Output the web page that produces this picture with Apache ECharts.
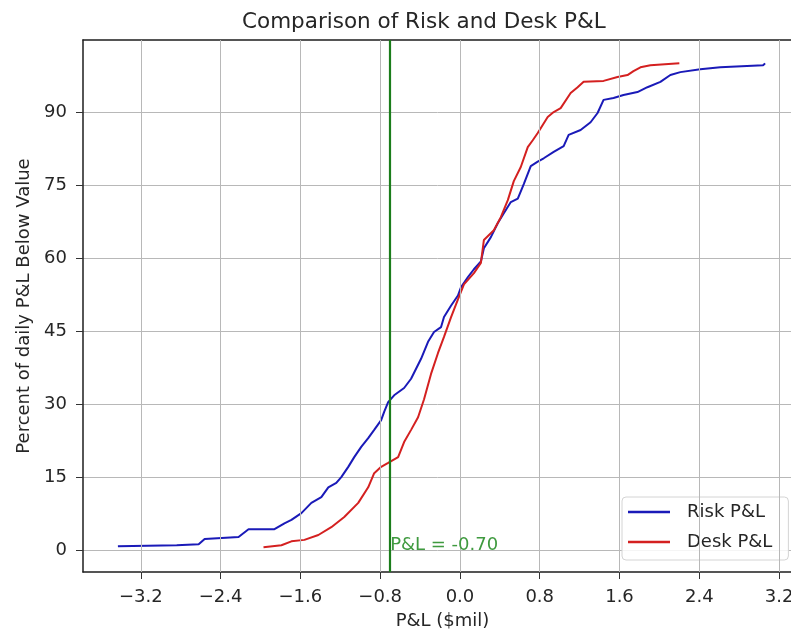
<!DOCTYPE html>
<html>
<head>
<meta charset="utf-8">
<script src="https://cdn.jsdelivr.net/npm/echarts@6/dist/echarts.min.js"></script>
<style>
  html, body { margin: 0; padding: 0; background: #fff; overflow: hidden; }
  #chart { width: 791px; height: 633px; }
</style>
</head>
<body>
<div id="chart"></div>
<script>
// Empirical distribution of daily P&L ($mil) vs. cumulative percent
const riskX = [-3.43, -2.84, -2.62, -2.56, -2.22, -2.12, -1.86, -1.76, -1.69, -1.59, -1.49, -1.39, -1.32, -1.24, -1.19, -1.12, -1.06, -0.99, -0.92, -0.86, -0.79, -0.76, -0.72, -0.66, -0.56, -0.49, -0.39, -0.32, -0.26, -0.19, -0.16, -0.09, -0.02, 0.01, 0.08, 0.14, 0.21, 0.24, 0.31, 0.38, 0.44, 0.51, 0.58, 0.64, 0.71, 0.78, 0.84, 0.94, 1.04, 1.09, 1.21, 1.31, 1.38, 1.44, 1.54, 1.64, 1.78, 1.88, 2.01, 2.11, 2.21, 2.41, 2.61, 3.04, 3.06];
const riskY = [0.8, 1.0, 1.2, 2.3, 2.7, 4.3, 4.3, 5.5, 6.2, 7.6, 9.7, 10.9, 12.9, 13.8, 15.0, 17.1, 19.1, 21.2, 23.0, 24.7, 26.7, 28.4, 30.4, 31.8, 33.3, 35.2, 39.3, 42.8, 44.8, 45.8, 47.9, 50.2, 52.3, 54.0, 56.1, 57.7, 59.3, 62.0, 64.3, 67.2, 69.2, 71.5, 72.2, 75.2, 78.9, 79.8, 80.5, 81.8, 83.0, 85.3, 86.3, 87.9, 89.8, 92.5, 92.9, 93.5, 94.1, 95.1, 96.2, 97.6, 98.2, 98.8, 99.2, 99.6, 100.0];

const deskX = [-1.97, -1.79, -1.69, -1.56, -1.42, -1.29, -1.16, -1.02, -0.92, -0.86, -0.79, -0.72, -0.62, -0.56, -0.49, -0.42, -0.36, -0.29, -0.22, -0.16, -0.09, -0.02, 0.04, 0.14, 0.21, 0.24, 0.34, 0.41, 0.48, 0.54, 0.61, 0.68, 0.73, 0.78, 0.88, 0.94, 1.01, 1.11, 1.18, 1.24, 1.44, 1.58, 1.68, 1.74, 1.81, 1.91, 2.20];
const deskY = [0.6, 1.0, 1.8, 2.1, 3.1, 4.7, 6.8, 9.7, 12.9, 15.8, 17.1, 17.9, 19.1, 22.2, 24.7, 27.3, 31.0, 36.2, 40.5, 43.8, 47.8, 51.5, 54.6, 56.9, 59.0, 63.7, 65.7, 68.4, 71.9, 75.8, 78.7, 82.8, 84.2, 85.7, 89.0, 90.0, 90.8, 93.9, 95.1, 96.2, 96.4, 97.2, 97.6, 98.4, 99.2, 99.6, 100.0];

const xTicks = [-3.2, -2.4, -1.6, -0.8, 0.0, 0.8, 1.6, 2.4, 3.2];
const yTicks = [0, 15, 30, 45, 60, 75, 90];
const thresholdPnl = -0.70;
const xRange = [-3.78, 3.43];
const yRange = [-4.5, 104.8];

const FONT = 'DejaVu Sans';
const AXIS_DARK = '#1e1e1e';
const GRID_GRAY = '#b8b8b8';
const pairs = (xs, ys) => xs.map((x, i) => [x, ys[i]]);
const minusSign = s => String(s).replace('-', '\u2212');

const chart = echarts.init(document.getElementById('chart'), null, { renderer: 'canvas' });

chart.setOption({
  animation: false,
  backgroundColor: '#ffffff',
  textStyle: { fontFamily: FONT },
  title: {
    text: 'Comparison of Risk and Desk P&L',
    left: 237,
    top: 6,
    textStyle: { fontFamily: FONT, fontSize: 21.5, fontWeight: 'normal', color: '#262626' }
  },
  grid: {
    left: 83, top: 40, right: -11, bottom: 61,
    show: false,
    containLabel: false, outerBoundsMode: 'none'
  },
  legend: {
    data: ['Risk P&L', 'Desk P&L'],
    orient: 'vertical',
    left: 622, top: 497,
    icon: 'rect', itemWidth: 42, itemHeight: 2.5, itemGap: 10,
    padding: [5, 16, 8, 6],
    backgroundColor: 'rgba(255,255,255,0.85)',
    borderColor: '#d4d4d4', borderWidth: 1, borderRadius: 4,
    textStyle: { fontFamily: FONT, fontSize: 18, color: '#262626', lineHeight: 20, padding: [0, 0, 0, 12] }
  },
  xAxis: [
    {
      type: 'value',
      min: xRange[0], max: xRange[1],
      name: 'P&L ($mil)',
      nameLocation: 'middle',
      nameGap: 40,
      nameTextStyle: { fontFamily: FONT, fontSize: 18, color: '#262626', verticalAlign: 'top' },
      axisLine: { show: true, onZero: false, lineStyle: { color: AXIS_DARK, width: 1.5 } },
      axisTick: { show: true, inside: false, length: 7, customValues: xTicks, lineStyle: { color: '#333' } },
      axisLabel: {
        show: true, margin: 16, customValues: xTicks,
        fontFamily: FONT, fontSize: 18, color: '#262626',
        formatter: v => minusSign(Number(v).toFixed(1))
      },
      splitLine: { show: false }
    },
    {
      // top frame edge
      type: 'value',
      position: 'top',
      min: xRange[0], max: xRange[1],
      axisLine: { show: true, onZero: false, lineStyle: { color: AXIS_DARK, width: 1.5 } },
      axisTick: { show: false },
      axisLabel: { show: false },
      splitLine: { show: false }
    }
  ],
  yAxis: {
    type: 'value',
    min: yRange[0], max: yRange[1],
    name: 'Percent of daily P&L Below Value',
    nameLocation: 'middle',
    nameRotate: 90,
    nameGap: 50,
    nameTextStyle: { fontFamily: FONT, fontSize: 18, color: '#262626' },
    axisLine: { show: true, onZero: false, lineStyle: { color: AXIS_DARK, width: 1.5 } },
    axisTick: { show: true, inside: false, length: 7, customValues: yTicks, lineStyle: { color: '#333' } },
    axisLabel: {
      show: true, margin: 16, customValues: yTicks,
      fontFamily: FONT, fontSize: 18, color: '#262626',
      formatter: v => String(Math.round(v))
    },
    splitLine: { show: true, lineStyle: { color: GRID_GRAY, width: 1 } }
  },
  series: [
    {
      // vertical grid lines at the x tick positions
      name: 'xGrid',
      type: 'line',
      data: [],
      z: 1,
      markLine: {
        silent: true,
        symbol: ['none', 'none'],
        label: { show: false },
        lineStyle: { color: GRID_GRAY, width: 1, type: 'solid' },
        data: xTicks.map(v => ({ xAxis: v }))
      }
    },
    {
      name: 'Risk P&L',
      type: 'line',
      data: pairs(riskX, riskY),
      showSymbol: false,
      color: '#1a1ab8',
      lineStyle: { width: 2, color: '#1a1ab8' },
      z: 3
    },
    {
      name: 'Desk P&L',
      type: 'line',
      data: pairs(deskX, deskY),
      showSymbol: false,
      color: '#d42020',
      lineStyle: { width: 2, color: '#d42020' },
      z: 3
    },
    {
      name: 'threshold',
      type: 'line',
      data: [],
      z: 4,
      markLine: {
        silent: true,
        symbol: ['none', 'none'],
        label: { show: false },
        lineStyle: { color: '#1b7d1b', width: 2.2, type: 'solid' },
        data: [{ xAxis: thresholdPnl }]
      },
      markPoint: {
        silent: true,
        symbol: 'circle',
        symbolSize: 0,
        data: [{
          coord: [thresholdPnl, 0],
          label: {
            show: true,
            position: [0, 4],
            align: 'left',
            verticalAlign: 'bottom',
            formatter: 'P&L = ' + thresholdPnl.toFixed(2),
            fontFamily: FONT, fontSize: 18, color: '#3f9a3f'
          }
        }]
      }
    }
  ]
});
</script>
</body>
</html>
